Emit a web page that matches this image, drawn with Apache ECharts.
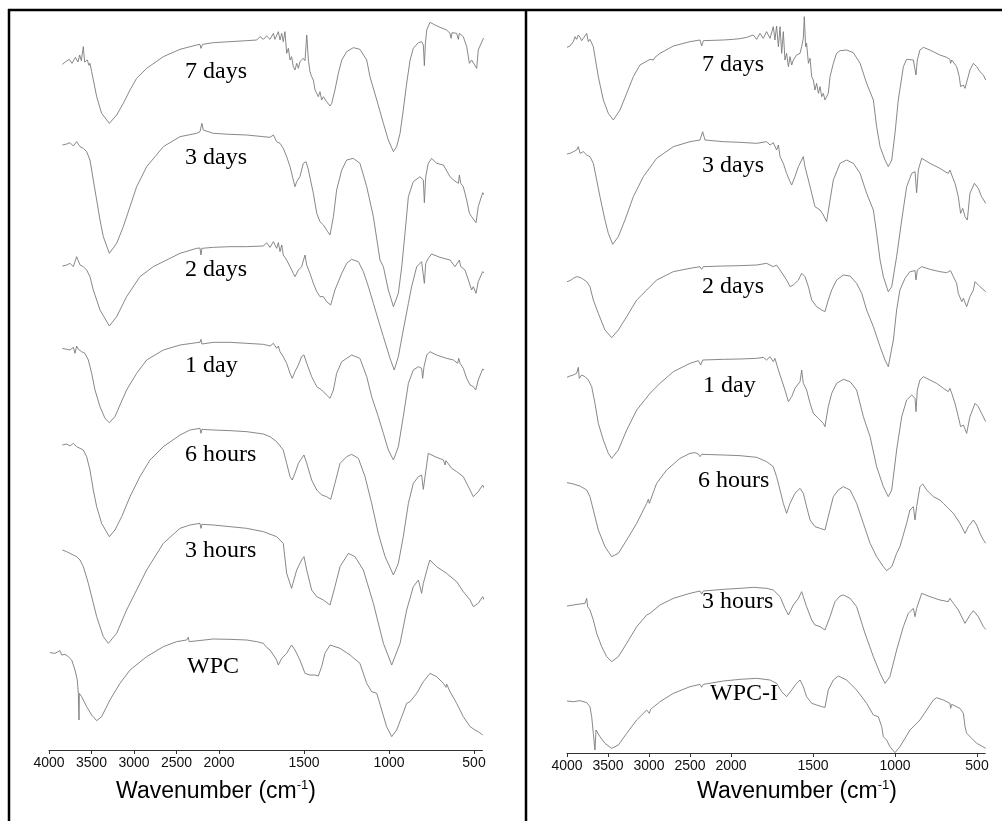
<!DOCTYPE html>
<html>
<head>
<meta charset="utf-8">
<script src="https://cdn.jsdelivr.net/npm/echarts@6/dist/echarts.min.js"></script>
<style>
  html, body { margin: 0; padding: 0; background: #fff; }
  #chart { width: 1007px; height: 821px; }
</style>
</head>
<body>
<div id="chart"></div>
<script>
// FTIR spectra, two panels, traces stacked with a vertical offset (arbitrary units)
// each trace: [wavenumber cm-1, relative transmittance]
const tickWavenumbers = [4000, 3500, 3000, 2500, 2000, 1500, 1000, 500];

const leftLabels = ['7 days', '3 days', '2 days', '1 day', '6 hours', '3 hours', 'WPC'];
const rightLabels = ['7 days', '3 days', '2 days', '1 day', '6 hours', '3 hours', 'WPC-I'];
const leftOffsets = [2057, 1815, 1452, 1205, 915, 600, 292];
const rightOffsets = [2117, 1797, 1414, 1127, 811, 441, 156];

const left7d = [[3843,0],[3804,8],[3761,15],[3730,3],[3690,21],[3659,7],[3639,28],[3620,11],[3596,53],[3581,7],[3549,13],[3530,-3],[3518,3],[3498,-22],[3439,-97],[3381,-147],[3290,-177],[3204,-152],[3126,-117],[3047,-77],[2969,-42],[2851,-12],[2655,23],[2459,45],[2263,58],[2224,60],[2212,48],[2193,60],[2067,65],[1935,68],[1837,71],[1778,73],[1759,83],[1739,75],[1720,85],[1700,75],[1680,93],[1671,75],[1651,98],[1641,73],[1631,93],[1622,68],[1612,98],[1602,33],[1592,48],[1582,13],[1573,23],[1563,-7],[1553,-17],[1543,3],[1533,-12],[1524,8],[1504,18],[1494,11],[1484,88],[1474,13],[1465,-22],[1455,-37],[1445,-47],[1435,-77],[1425,-87],[1416,-97],[1406,-82],[1396,-107],[1386,-97],[1367,-112],[1347,-125],[1337,-117],[1318,-77],[1298,-27],[1278,13],[1249,38],[1210,50],[1171,45],[1131,13],[1112,-37],[1072,-107],[1033,-177],[1004,-227],[974,-262],[955,-247],[935,-207],[916,-137],[896,-57],[876,13],[857,48],[827,65],[808,68],[798,58],[792,-4],[786,63],[778,103],[759,126],[729,118],[700,111],[661,103],[641,93],[635,78],[629,95],[602,93],[592,75],[586,93],[563,83],[543,53],[527,3],[514,13],[504,8],[484,-12],[475,43],[445,78],[425,68],[406,48],[386,28],[370,13]];

const left3d = [[3843,0],[3792,3],[3753,7],[3714,-3],[3675,10],[3635,-5],[3596,-10],[3557,-20],[3518,-45],[3479,-105],[3439,-165],[3400,-225],[3361,-275],[3290,-325],[3204,-295],[3126,-245],[3047,-185],[2969,-125],[2851,-65],[2655,-5],[2459,25],[2263,35],[2224,40],[2201,65],[2185,45],[2067,35],[1935,32],[1837,30],[1739,25],[1700,23],[1680,30],[1661,10],[1641,5],[1622,-10],[1602,-35],[1582,-65],[1563,-105],[1553,-125],[1543,-110],[1524,-95],[1504,-55],[1488,-50],[1474,-75],[1445,-145],[1425,-205],[1406,-230],[1386,-240],[1367,-255],[1347,-270],[1327,-215],[1308,-135],[1278,-75],[1249,-45],[1210,-40],[1171,-55],[1131,-125],[1092,-215],[1053,-345],[1033,-365],[1004,-435],[974,-485],[945,-445],[925,-365],[906,-265],[886,-155],[857,-110],[818,-95],[798,-105],[792,-173],[784,-95],[769,-55],[749,-40],[720,-55],[680,-60],[641,-95],[621,-105],[592,-115],[586,-90],[578,-115],[563,-125],[543,-165],[527,-205],[514,-215],[504,-210],[488,-233],[475,-185],[449,-143],[425,-160],[396,-195],[370,-220]];

const left2d = [[3843,0],[3792,3],[3753,8],[3714,-2],[3675,28],[3635,3],[3596,-2],[3557,-12],[3518,-32],[3479,-72],[3400,-132],[3290,-180],[3204,-152],[3087,-92],[2930,-32],[2773,-2],[2459,38],[2263,53],[2224,54],[2212,33],[2201,53],[2067,56],[1935,58],[1837,58],[1739,60],[1720,70],[1700,56],[1680,73],[1661,53],[1651,70],[1641,43],[1631,63],[1622,33],[1602,18],[1582,-2],[1563,-22],[1553,-32],[1533,-12],[1514,-2],[1494,33],[1484,3],[1465,-22],[1445,-52],[1425,-77],[1406,-92],[1386,-92],[1367,-107],[1343,-117],[1318,-72],[1278,-22],[1249,8],[1220,20],[1180,13],[1151,-17],[1121,-62],[1092,-112],[1063,-162],[1033,-212],[994,-277],[969,-312],[945,-272],[916,-192],[886,-112],[867,-62],[837,-2],[808,13],[798,8],[792,-52],[784,8],[769,23],[749,36],[700,26],[641,18],[612,-2],[586,18],[578,-2],[553,-12],[533,-42],[514,-72],[504,-62],[488,-82],[475,-47],[449,-17],[425,-27],[396,-52],[370,-67]];

const left1d = [[3843,0],[3792,-3],[3753,-5],[3714,3],[3694,-15],[3675,7],[3655,-3],[3616,-10],[3577,-15],[3537,-35],[3498,-75],[3459,-125],[3400,-175],[3341,-210],[3290,-223],[3224,-205],[3165,-170],[3087,-125],[2969,-75],[2851,-35],[2655,-5],[2459,10],[2263,17],[2224,18],[2212,27],[2201,13],[2185,18],[2067,18],[1935,18],[1837,15],[1739,12],[1700,7],[1680,15],[1661,0],[1651,7],[1641,-10],[1622,-25],[1602,-45],[1582,-75],[1569,-90],[1553,-70],[1533,-50],[1514,-25],[1500,-20],[1484,-45],[1455,-85],[1425,-115],[1396,-125],[1367,-140],[1347,-150],[1327,-125],[1308,-75],[1278,-40],[1220,-20],[1171,-30],[1131,-85],[1102,-145],[1063,-205],[1033,-255],[1004,-305],[974,-335],[945,-295],[916,-205],[886,-105],[857,-65],[827,-55],[808,-60],[802,-90],[794,-55],[778,-20],[759,-10],[720,-20],[661,-30],[621,-35],[596,-45],[590,-30],[582,-45],[563,-60],[543,-90],[523,-110],[504,-115],[490,-125],[475,-95],[449,-62],[425,-70],[396,-100],[370,-110]];

const left6h = [[3843,0],[3792,3],[3753,-3],[3714,5],[3675,-5],[3635,-10],[3596,-15],[3557,-35],[3518,-75],[3479,-135],[3439,-185],[3381,-235],[3290,-275],[3224,-255],[3145,-215],[3047,-155],[2930,-95],[2812,-45],[2655,-5],[2459,30],[2342,45],[2224,50],[2212,35],[2201,47],[2067,45],[1935,43],[1837,40],[1739,33],[1700,25],[1661,10],[1622,-15],[1602,-55],[1582,-95],[1569,-105],[1553,-85],[1533,-55],[1514,-40],[1500,-30],[1484,-55],[1455,-105],[1425,-135],[1396,-150],[1367,-155],[1343,-163],[1318,-115],[1288,-55],[1249,-35],[1220,-28],[1180,-40],[1141,-95],[1102,-175],[1063,-265],[1023,-335],[974,-390],[945,-355],[916,-275],[886,-175],[857,-115],[827,-95],[808,-90],[798,-133],[788,-95],[769,-25],[759,-20],[729,-35],[680,-45],[670,-60],[665,-47],[631,-70],[602,-80],[563,-95],[533,-125],[504,-155],[475,-140],[449,-120],[425,-145],[396,-180],[370,-215]];

const left3h = [[3843,0],[3792,-5],[3753,-10],[3714,-15],[3675,-20],[3635,-30],[3596,-50],[3537,-100],[3439,-200],[3361,-260],[3302,-280],[3204,-250],[3087,-180],[2969,-120],[2851,-60],[2655,20],[2459,65],[2342,75],[2224,80],[2212,65],[2201,77],[2067,75],[1935,70],[1837,65],[1739,55],[1661,40],[1622,20],[1602,-70],[1573,-115],[1543,-60],[1514,-30],[1500,-20],[1484,-60],[1455,-120],[1425,-140],[1386,-150],[1347,-165],[1318,-110],[1288,-50],[1239,-10],[1200,-20],[1151,-60],[1092,-160],[1033,-280],[984,-345],[935,-280],[896,-180],[857,-110],[827,-90],[808,-130],[798,-100],[769,-45],[759,-30],[720,-50],[661,-70],[602,-95],[563,-125],[523,-150],[504,-170],[475,-160],[449,-140],[425,-165],[396,-200],[376,-225]];

const leftWPC = [[3988,0],[3929,-2],[3871,6],[3851,-7],[3812,-5],[3773,-12],[3733,-22],[3694,-52],[3667,-82],[3655,-122],[3647,-202],[3643,-122],[3635,-117],[3616,-132],[3557,-162],[3498,-187],[3439,-204],[3381,-192],[3283,-142],[3165,-92],[3047,-52],[2851,-12],[2655,18],[2499,33],[2381,38],[2361,46],[2350,33],[2342,38],[2067,41],[1935,40],[1837,38],[1778,33],[1739,28],[1720,16],[1700,8],[1680,-7],[1661,-22],[1651,-37],[1631,-17],[1602,-2],[1582,16],[1573,23],[1553,8],[1524,-22],[1494,-62],[1465,-67],[1435,-67],[1416,-70],[1396,-42],[1377,-2],[1347,23],[1288,13],[1229,-7],[1171,-32],[1131,-92],[1102,-117],[1072,-122],[1043,-172],[1014,-222],[984,-252],[955,-232],[925,-192],[896,-152],[876,-147],[837,-122],[798,-87],[759,-62],[720,-72],[680,-92],[665,-104],[661,-94],[641,-117],[602,-152],[563,-192],[523,-222],[494,-232],[475,-237],[449,-247]];

const right7d = [[4000,0],[3963,4],[3923,17],[3902,32],[3882,24],[3862,37],[3841,30],[3821,20],[3801,27],[3760,42],[3740,17],[3720,24],[3679,2],[3659,-28],[3618,-88],[3557,-158],[3496,-198],[3435,-218],[3354,-188],[3272,-138],[3191,-88],[3110,-53],[2988,-36],[2947,-38],[2927,-30],[2866,-18],[2703,4],[2500,17],[2378,22],[2358,4],[2337,20],[2094,22],[1986,24],[1945,26],[1904,30],[1864,37],[1843,24],[1823,42],[1803,27],[1783,47],[1762,27],[1742,62],[1732,22],[1722,64],[1711,2],[1701,62],[1691,-18],[1681,47],[1671,-38],[1661,-18],[1650,-58],[1640,-28],[1630,-53],[1620,-38],[1600,-23],[1579,-18],[1569,2],[1559,27],[1553,92],[1545,2],[1539,12],[1528,-48],[1518,-33],[1508,-88],[1498,-98],[1488,-128],[1478,-108],[1467,-138],[1457,-118],[1447,-148],[1437,-138],[1427,-158],[1417,-163],[1407,-138],[1396,-88],[1376,-48],[1356,-18],[1335,-10],[1295,-8],[1254,-16],[1213,-48],[1173,-108],[1132,-158],[1112,-238],[1091,-298],[1061,-338],[1041,-358],[1020,-338],[1000,-258],[980,-158],[949,-58],[929,-36],[888,-38],[872,-83],[864,-38],[848,-8],[827,0],[787,-8],[726,-23],[685,-30],[665,-36],[661,-48],[654,-38],[624,-58],[608,-88],[600,-118],[583,-113],[573,-123],[563,-128],[543,-68],[522,-48],[502,-58],[482,-73],[461,-83],[447,-98]];

const right3d = [[4000,0],[3963,2],[3923,7],[3882,12],[3862,22],[3841,2],[3801,7],[3760,-3],[3720,-8],[3679,-28],[3638,-78],[3598,-128],[3537,-198],[3496,-238],[3443,-271],[3374,-248],[3293,-198],[3191,-128],[3069,-68],[2907,-13],[2703,22],[2500,37],[2378,42],[2346,67],[2317,42],[2094,37],[1945,35],[1843,32],[1783,37],[1762,27],[1742,34],[1722,12],[1711,27],[1701,-8],[1681,-28],[1661,-58],[1640,-83],[1630,-93],[1610,-68],[1589,-38],[1569,-18],[1559,-8],[1549,-38],[1528,-78],[1508,-118],[1488,-158],[1457,-168],[1437,-183],[1417,-203],[1396,-138],[1376,-78],[1335,-28],[1295,-18],[1254,-28],[1213,-58],[1173,-118],[1132,-168],[1112,-238],[1091,-318],[1071,-368],[1041,-413],[1020,-398],[990,-308],[959,-198],[929,-98],[898,-58],[878,-53],[868,-116],[858,-48],[837,-13],[787,-28],[726,-43],[695,-53],[675,-58],[665,-48],[654,-63],[634,-88],[614,-128],[600,-178],[587,-163],[573,-188],[559,-198],[543,-118],[516,-88],[492,-103],[472,-128],[447,-148]];

const right2d = [[4000,0],[3963,3],[3923,10],[3882,15],[3862,17],[3841,13],[3801,7],[3760,0],[3720,-15],[3679,-55],[3618,-95],[3537,-145],[3455,-168],[3374,-145],[3272,-105],[3150,-55],[3028,-25],[2907,5],[2703,30],[2500,40],[2378,45],[2358,37],[2337,45],[2094,47],[1945,48],[1843,50],[1783,55],[1742,45],[1722,50],[1701,35],[1661,5],[1640,-15],[1620,-10],[1589,5],[1569,25],[1549,15],[1528,-15],[1508,-55],[1478,-75],[1447,-85],[1427,-90],[1407,-55],[1386,-25],[1356,5],[1315,20],[1274,17],[1234,-5],[1203,-35],[1173,-85],[1132,-135],[1091,-195],[1061,-235],[1041,-255],[1010,-175],[990,-85],[970,-25],[939,10],[909,30],[878,33],[872,5],[864,35],[837,45],[787,37],[726,30],[685,27],[661,33],[644,15],[624,-5],[614,-35],[593,-60],[583,-50],[563,-75],[543,-45],[522,-25],[512,0],[482,-15],[447,-30]];

const right1d = [[4000,0],[3963,4],[3923,7],[3882,12],[3862,30],[3850,-3],[3821,7],[3780,2],[3740,-8],[3699,-28],[3659,-78],[3618,-138],[3557,-188],[3496,-228],[3455,-243],[3374,-218],[3272,-158],[3150,-98],[2988,-48],[2866,-18],[2703,17],[2500,42],[2398,50],[2370,37],[2346,52],[2094,54],[1945,55],[1843,57],[1803,60],[1783,52],[1762,62],[1742,47],[1732,57],[1711,22],[1691,-8],[1671,-38],[1650,-73],[1630,-58],[1610,-33],[1579,-13],[1569,22],[1559,-18],[1539,-38],[1518,-78],[1498,-108],[1467,-123],[1437,-138],[1427,-148],[1407,-88],[1386,-48],[1356,-18],[1315,-6],[1274,-13],[1234,-38],[1193,-118],[1152,-178],[1112,-268],[1071,-328],[1041,-358],[1020,-338],[990,-218],[959,-118],[929,-68],[898,-53],[878,-63],[872,-103],[864,-38],[848,-8],[827,2],[787,-8],[746,-18],[705,-33],[675,-43],[665,-33],[654,-48],[634,-78],[614,-118],[600,-148],[583,-143],[563,-168],[543,-118],[512,-78],[492,-88],[472,-108],[447,-133]];

const right6h = [[4000,0],[3923,-4],[3841,-10],[3760,-22],[3720,-42],[3679,-82],[3618,-142],[3537,-192],[3455,-222],[3374,-212],[3272,-172],[3150,-122],[3028,-62],[3008,-50],[2996,-62],[2907,-2],[2785,38],[2622,73],[2500,88],[2439,90],[2398,86],[2378,78],[2358,85],[2094,83],[1945,81],[1843,76],[1783,63],[1742,48],[1722,18],[1701,-22],[1681,-62],[1661,-92],[1640,-62],[1610,-32],[1579,-17],[1559,-32],[1539,-72],[1518,-112],[1488,-132],[1457,-137],[1427,-142],[1407,-102],[1376,-42],[1346,-22],[1315,-12],[1274,-22],[1234,-62],[1193,-122],[1152,-182],[1112,-222],[1071,-252],[1051,-264],[1020,-252],[990,-212],[970,-192],[929,-122],[909,-82],[888,-72],[878,-112],[868,-72],[848,-12],[831,-4],[807,-22],[766,-42],[726,-52],[705,-62],[675,-77],[644,-92],[604,-122],[573,-152],[553,-132],[522,-112],[502,-127],[482,-152],[461,-172],[447,-182]];

const right3h = [[4000,0],[3923,3],[3841,6],[3780,8],[3760,23],[3748,-2],[3720,-12],[3679,-42],[3638,-82],[3577,-122],[3516,-152],[3455,-167],[3374,-152],[3272,-112],[3150,-62],[3028,-27],[2988,-22],[2866,3],[2703,23],[2500,38],[2378,45],[2358,36],[2337,45],[2094,50],[1945,53],[1864,56],[1783,53],[1742,48],[1701,28],[1671,-7],[1650,-27],[1620,3],[1589,23],[1569,43],[1559,28],[1539,-2],[1508,-42],[1488,-57],[1457,-62],[1427,-72],[1396,-32],[1366,13],[1335,30],[1315,33],[1274,23],[1234,-2],[1183,-82],[1132,-152],[1091,-202],[1061,-232],[1031,-212],[990,-132],[949,-62],[919,-22],[888,-7],[878,-32],[868,-7],[837,38],[787,28],[726,18],[675,13],[665,23],[644,8],[614,-12],[573,-52],[543,-27],[522,-14],[492,-32],[461,-62],[447,-70]];

const rightWPCI = [[4000,0],[3923,-2],[3841,1],[3760,-5],[3720,-17],[3699,-47],[3679,-97],[3659,-147],[3646,-87],[3630,-92],[3598,-107],[3537,-127],[3455,-142],[3374,-132],[3272,-97],[3150,-57],[3028,-27],[2996,-37],[2980,-25],[2866,-2],[2703,23],[2500,43],[2378,50],[2358,41],[2337,50],[2094,60],[1945,65],[1843,68],[1762,63],[1722,53],[1691,28],[1661,13],[1630,33],[1600,53],[1579,63],[1559,43],[1539,13],[1508,-7],[1478,-12],[1447,-17],[1427,-19],[1407,33],[1376,63],[1346,75],[1295,63],[1234,33],[1173,-7],[1132,-42],[1102,-47],[1081,-77],[1071,-107],[1051,-117],[1031,-137],[1000,-155],[970,-137],[939,-112],[909,-87],[878,-72],[848,-57],[807,-27],[766,3],[746,10],[705,3],[665,-7],[661,-22],[654,-10],[604,-22],[583,-37],[573,-77],[563,-97],[532,-112],[502,-127],[482,-132],[447,-142]];

const leftTraces = [left7d, left3d, left2d, left1d, left6h, left3h, leftWPC];
const rightTraces = [right7d, right3d, right2d, right1d, right6h, right3h, rightWPCI];

// split wavenumber scale: 4000-2000 compressed to half of 2000-400
function toP(wn) { return wn >= 2000 ? (4000 - wn) / 2 : 3000 - wn; }
function fromP(p) { return p <= 1000 ? 4000 - 2 * p : 3000 - p; }
const tickP = tickWavenumbers.map(toP);

const sans = 'Liberation Sans, Arial, sans-serif';
const serif = 'Liberation Serif, Times New Roman, serif';

function makeXAxis(gridIndex) {
  return {
    type: 'value', gridIndex, min: 0, max: 2550,
    axisLine: { show: true, lineStyle: { color: '#333', width: 1 } },
    axisTick: { show: true, customValues: tickP, length: 4, lineStyle: { color: '#333' } },
    axisLabel: {
      customValues: tickP, margin: 6, color: '#111', fontSize: 14, fontFamily: sans,
      formatter: v => String(fromP(v))
    },
    splitLine: { show: false }
  };
}

function makeSeries(traces, offsets, axisIndex) {
  return traces.map((tr, i) => ({
    type: 'line', xAxisIndex: axisIndex, yAxisIndex: axisIndex,
    data: tr.map(([wn, t]) => [toP(wn), offsets[i] + t]),
    showSymbol: false, clip: false, silent: true,
    lineStyle: { color: '#7a7a7a', width: 0.9 }
  }));
}

const leftLabelPos = [[185, 72], [185, 158], [185, 270], [185, 366], [185, 455], [185, 551], [187, 667]];
const rightLabelPos = [[702, 65], [702, 166], [702, 287], [703, 386], [698, 481], [702, 602], [710, 694]];

function labelGraphics(labels, pos) {
  return labels.map((s, i) => ({
    type: 'text', x: pos[i][0], y: pos[i][1], silent: true,
    style: { text: s, fill: '#000', font: '24px ' + serif, align: 'left', verticalAlign: 'middle' }
  }));
}

function titleGraphic(cx) {
  return {
    type: 'text', x: cx, y: 792, silent: true,
    style: {
      text: '{a|Wavenumber (cm}{b|-1}{a|)}', align: 'center', verticalAlign: 'middle',
      rich: {
        a: { fontSize: 23, fontFamily: sans, fill: '#000', lineHeight: 27 },
        b: { fontSize: 13, fontFamily: sans, fill: '#000', verticalAlign: 'top', lineHeight: 27, padding: [0, 0, 8, 0] }
      }
    }
  };
}

const borders = [
  { type: 'line', shape: { x1: 8, y1: 10, x2: 1002, y2: 10 }, style: { stroke: '#000', lineWidth: 2.5 } },
  { type: 'line', shape: { x1: 9, y1: 9, x2: 9, y2: 821 }, style: { stroke: '#000', lineWidth: 2.5 } },
  { type: 'line', shape: { x1: 526, y1: 9, x2: 526, y2: 821 }, style: { stroke: '#000', lineWidth: 2.5 } }
];

const chart = echarts.init(document.getElementById('chart'), null, { renderer: 'canvas' });
chart.setOption({
  animation: false,
  backgroundColor: '#fff',
  grid: [
    { left: 49, top: 10, width: 433.5, height: 740 },
    { left: 567, top: 13, width: 418.2, height: 740 }
  ],
  xAxis: [makeXAxis(0), makeXAxis(1)],
  yAxis: [
    { type: 'value', gridIndex: 0, min: 0, max: 2220, show: false },
    { type: 'value', gridIndex: 1, min: 0, max: 2220, show: false }
  ],
  series: [...makeSeries(leftTraces, leftOffsets, 0), ...makeSeries(rightTraces, rightOffsets, 1)],
  graphic: [
    ...borders,
    ...labelGraphics(leftLabels, leftLabelPos),
    ...labelGraphics(rightLabels, rightLabelPos),
    titleGraphic(216),
    titleGraphic(797)
  ]
});
</script>
</body>
</html>
